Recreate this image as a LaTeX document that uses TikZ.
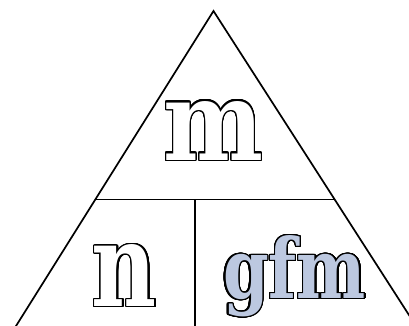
\documentclass[tikz,border=0pt]{standalone}
\usepackage{fontspec}
\newfontfamily\wordfont{DejaVu Serif}
\usepackage{contour}
\contourlength{1.3pt}
\contournumber{32}
\definecolor{gfmblue}{RGB}{188,200,224}
\newcommand{\outlinedword}[4]{{\color{#1}\contour{black}{\resizebox{#2}{#3}{\wordfont\bfseries #4}}}}
\tikzset{
  edge/.style={line width=1.7pt, black, line cap=butt, line join=miter},
  word/.style={inner sep=0pt, anchor=base}
}
\begin{document}
\begin{tikzpicture}[x=1pt,y=1pt]
\useasboundingbox (0,0) rectangle (409,325);
\fill[white] (0,0) rectangle (409,325);
% key points
\coordinate (A) at (213.5,314);
\coordinate (L) at (13.5,-5);
\coordinate (R) at (418.6,-5);
\coordinate (HL) at (95,125.5);
\coordinate (HR) at (335,125.5);
\coordinate (VT) at (195,125.5);
\coordinate (VB) at (195,-5);
\begin{scope}
\clip (0,0) rectangle (409,325);
\draw[edge] (L) -- (A) -- (R);
\draw[edge] (HL) -- (HR);
\draw[edge] (VT) -- (VB);
\end{scope}
\node[word] (m) at (213.5,165) {\outlinedword{white}{100pt}{59pt}{m}};
\node[word] (n) at (124.5,18.5) {\outlinedword{white}{65pt}{62pt}{n}};
\node[word] (gfm) at (294.5,26.5) {\outlinedword{gfmblue}{143pt}{63pt}{gfm}};
\end{tikzpicture}
\end{document}
